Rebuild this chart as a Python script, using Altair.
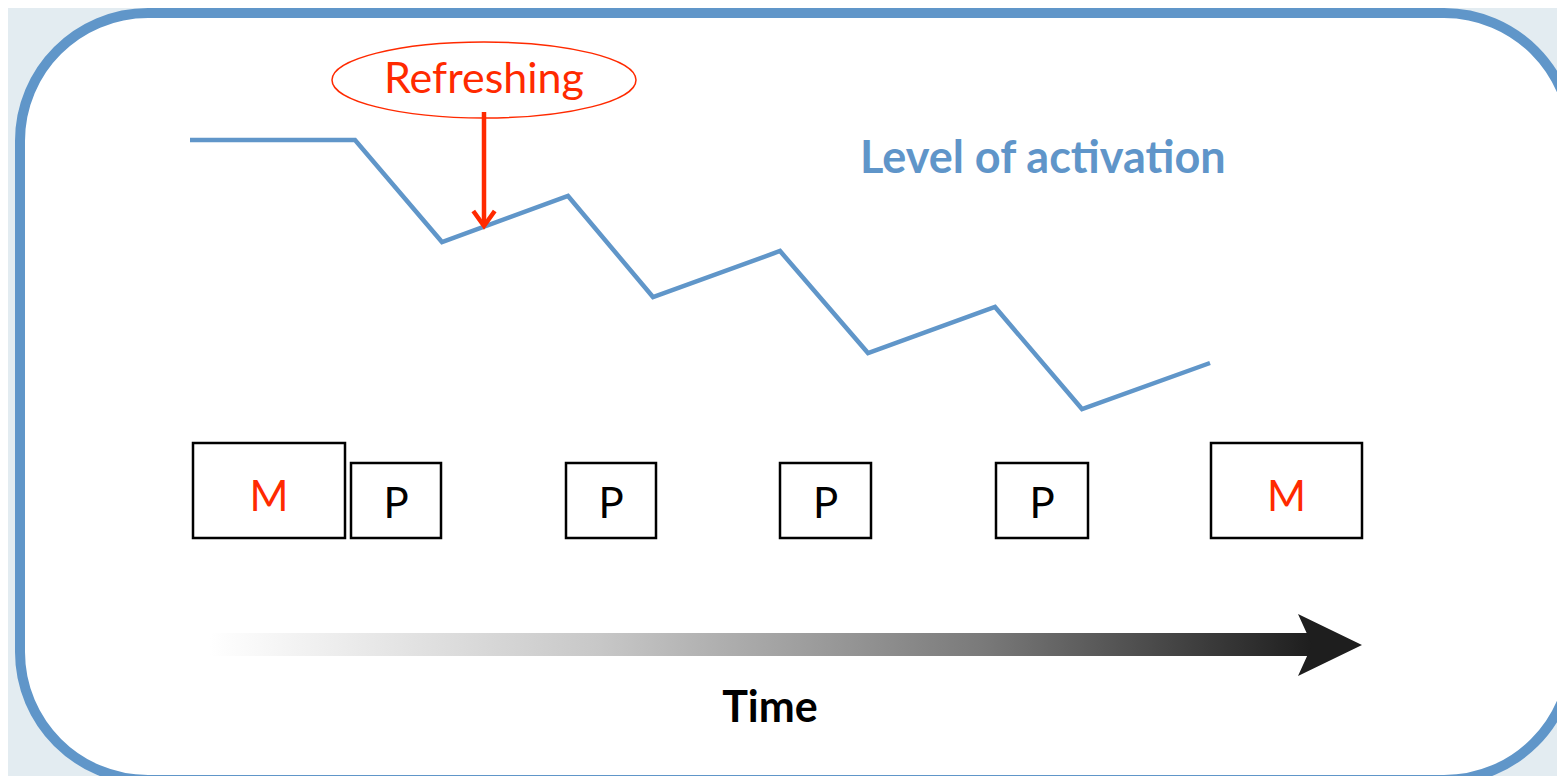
import altair as alt
import pandas as pd

# ---- data (diagram units = picture pixels) ----
time_pts = [190, 355, 442, 568, 653, 780, 868, 995, 1082, 1210]
activation_pts = [140, 140, 242, 196, 297, 251, 353, 307, 409, 363]

box_labels = ["M", "P", "P", "P", "P", "M"]
box_kind = ["M", "P", "P", "P", "P", "M"]
box_x0 = [193, 351, 566, 780, 996, 1211]
box_x1 = [345, 441, 656, 871, 1088, 1362]
box_y0 = [443, 463, 463, 463, 463, 443]
box_y1 = [538, 538, 538, 538, 538, 538]
box_base = [511, 518, 518, 518, 518, 511]

frame_x = [20, 1572]
frame_y = [13, 780]

refresh_center = [484, 80]
refresh_arrow_y = [112, 226]

time_arrow_x = [210, 1312]
time_arrow_y = [633, 656]
time_head = [1330, 645]

W, H = 1565, 784
PW, PH = 1549, 768
xs = alt.Scale(domain=[0, W], range=[-8, W - 8])
ys = alt.Scale(domain=[0, H], range=[-8, H - 8])

BLUE = "#6096c9"
RED = "#ff2a00"
FONT = "Lato"


def X(f="x"):
    return alt.X(f"{f}:Q", scale=xs, axis=None)


def Y(f="y"):
    return alt.Y(f"{f}:Q", scale=ys, axis=None)


frame_df = pd.DataFrame({"x": [frame_x[0]], "x2": [frame_x[1]],
                         "y": [frame_y[0]], "y2": [frame_y[1]]})
frame_shadow = alt.Chart(frame_df).mark_rect(
    cornerRadius=128, fill="#9fb5c4", opacity=0.35, xOffset=3, yOffset=4
).encode(x=X(), x2="x2:Q", y=Y(), y2="y2:Q")
frame = alt.Chart(frame_df).mark_rect(
    cornerRadius=128, fill="white", stroke=BLUE, strokeWidth=10
).encode(x=X(), x2="x2:Q", y=Y(), y2="y2:Q")

line_df = pd.DataFrame({"x": time_pts, "y": activation_pts, "o": range(len(time_pts))})
act_line = alt.Chart(line_df).mark_line(color=BLUE, strokeWidth=4.5).encode(
    x=X(), y=Y(), order="o:Q")

boxes_df = pd.DataFrame({"x": box_x0, "x2": box_x1, "y": box_y0, "y2": box_y1,
                         "label": box_labels, "kind": box_kind, "base": box_base})
boxes_df["cx"] = (boxes_df["x"] + boxes_df["x2"]) / 2
box_shadow = alt.Chart(boxes_df).mark_rect(
    fill="#b8b8b8", opacity=0.45, xOffset=2, yOffset=4
).encode(x=X(), x2="x2:Q", y=Y(), y2="y2:Q")
boxes = alt.Chart(boxes_df).mark_rect(
    fill="white", stroke="black", strokeWidth=2.5
).encode(x=X(), x2="x2:Q", y=Y(), y2="y2:Q")
box_text = alt.Chart(boxes_df).mark_text(
    font=FONT, fontSize=42, align="center", baseline="alphabetic"
).encode(
    x=X("cx"), y=Y("base"), text="label:N",
    color=alt.Color("kind:N", scale=alt.Scale(domain=["M", "P"], range=[RED, "black"]),
                    legend=None),
)

ell_df = pd.DataFrame({"x": [refresh_center[0]], "y": [refresh_center[1]], "t": ["Refreshing"]})
ellipse = alt.Chart(ell_df).mark_point(
    shape="M -1 0 A 1 0.25 0 1 0 1 0 A 1 0.25 0 1 0 -1 0",
    size=304 * 304, filled=False, stroke=RED, strokeWidth=1.5, opacity=1
).encode(x=X(), y=Y())
refresh_text = alt.Chart(ell_df).mark_text(
    font=FONT, fontSize=43, color=RED, align="center", baseline="alphabetic", dy=13
).encode(x=X(), y=Y(), text="t:N")

arr_df = pd.DataFrame({"x": [refresh_center[0]], "y": [refresh_arrow_y[0]],
                       "y2": [refresh_arrow_y[1]]})
red_rule = alt.Chart(arr_df).mark_rule(color=RED, strokeWidth=4.5).encode(
    x=X(), y=Y(), y2="y2:Q")
tip_df = pd.DataFrame({"x": [refresh_center[0]], "y": [refresh_arrow_y[1]]})
red_tip = alt.Chart(tip_df).mark_point(
    shape="M -1 -1.4 L 0 0 L 1 -1.4", size=460, filled=False,
    stroke=RED, strokeWidth=4.5, opacity=1
).encode(x=X(), y=Y())

lvl_df = pd.DataFrame({"x": [860], "y": [173], "t": ["Level of activation"]})
lvl_text = alt.Chart(lvl_df).mark_text(
    font=FONT, fontSize=45, fontWeight="bold", color="#5f95c9",
    align="left", baseline="alphabetic"
).encode(x=X(), y=Y(), text="t:N")

shaft_df = pd.DataFrame({"x": [time_arrow_x[0]], "x2": [time_arrow_x[1]],
                         "y": [time_arrow_y[0]], "y2": [time_arrow_y[1]]})
grad = alt.LinearGradient(
    gradient="linear",
    stops=[alt.GradientStop(color="#ffffff", offset=0),
           alt.GradientStop(color="#c8c8c8", offset=0.35),
           alt.GradientStop(color="#7a7a7a", offset=0.7),
           alt.GradientStop(color="#1e1e1e", offset=1)],
    x1=0, x2=1, y1=0, y2=0,
)
shaft = alt.Chart(shaft_df).mark_rect(color=grad).encode(
    x=X(), x2="x2:Q", y=Y(), y2="y2:Q")
head_df = pd.DataFrame({"x": [time_head[0]], "y": [time_head[1]]})
head = alt.Chart(head_df).mark_point(
    shape="M 1 0 L -1 -0.97 L -0.56 0 L -1 0.97 Z", size=64 * 64,
    filled=True, color="#1e1e1e", opacity=1
).encode(x=X(), y=Y())

time_df = pd.DataFrame({"x": [770], "y": [722], "t": ["Time"]})
time_text = alt.Chart(time_df).mark_text(
    font=FONT, fontSize=43, fontWeight="bold", color="black",
    align="center", baseline="alphabetic"
).encode(x=X(), y=Y(), text="t:N")

chart = alt.layer(
    frame_shadow, frame, act_line, box_shadow, boxes, box_text,
    ellipse, refresh_text, red_rule, red_tip, lvl_text, shaft, head, time_text
).properties(
    width=PW, height=PH, padding=0, autosize=alt.AutoSizeParams(type="none"),
    background="#e3ecf1"
).configure_view(stroke=None)

chart.save("out.html", embed_options={"renderer": "svg", "actions": False})
